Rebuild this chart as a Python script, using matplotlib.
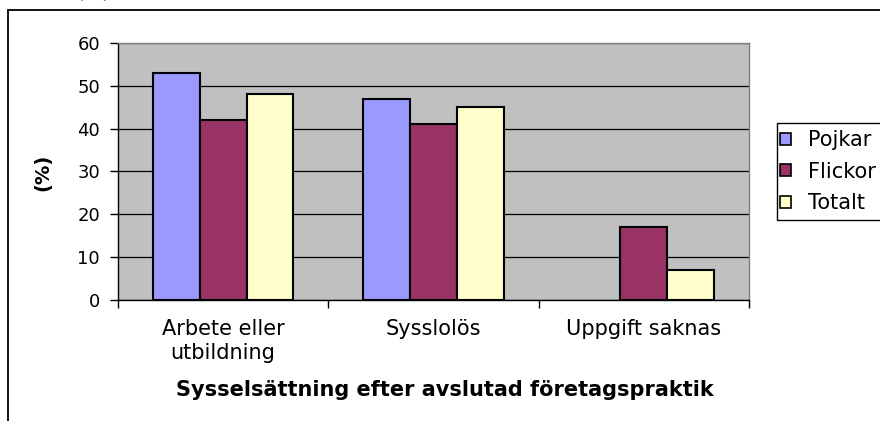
import matplotlib
matplotlib.use("Agg")
import matplotlib.pyplot as plt
import numpy as np
from matplotlib.patches import Rectangle

plt.rcParams['font.family'] = ['DejaVu Sans']

categories = ["Arbete eller\nutbildning", "Sysslolös", "Uppgift saknas"]
series_names = ["Pojkar", "Flickor", "Totalt"]
pojkar = [53, 47, 0]
flickor = [42, 41, 17]
totalt = [48, 45, 7]
yticks = [0, 10, 20, 30, 40, 50, 60]
colors = ["#9999FF", "#993366", "#FFFFCC"]

W, H = 880, 421
fig = plt.figure(figsize=(W/100, H/100), dpi=100)

# outer chart frame (extends beyond the picture on right and bottom)
fig.patches.append(Rectangle((8/W, -0.1), 1.2, 1 - 10/H + 0.1, transform=fig.transFigure,
                             fill=False, edgecolor='black', linewidth=1.3, zorder=0))
# clipped text at top-left
fig.text(93/W, 1 + 8/H, "(%)", ha='center', va='center', fontsize=14)

ax = fig.add_axes([118/W, (H-300)/H, (749-118)/W, (300-43)/H])
ax.set_facecolor('#C0C0C0')

x = np.arange(len(categories))
bw = 1/4.5
data = [pojkar, flickor, totalt]
for i, (vals, c, name) in enumerate(zip(data, colors, series_names)):
    xs = x + (i - 1) * bw
    hs = [v if v > 0 else np.nan for v in vals]
    ax.bar(xs, hs, width=bw, color=c, edgecolor='black', linewidth=1.5, label=name, zorder=3)

ax.set_xlim(-0.5, 2.5)
ax.set_ylim(0, 60)
ax.set_yticks(yticks)
ax.yaxis.grid(True, color='black', linewidth=0.9, zorder=1)
ax.set_axisbelow(True)

ax.set_xticks([-0.5, 0.5, 1.5, 2.5])
ax.set_xticklabels([])
ax.tick_params(axis='x', direction='out', length=6, width=1, color='black')
ax.tick_params(axis='y', direction='out', length=6, width=1, color='black', labelsize=13, pad=7)
for xi, lab in zip(x, categories):
    ax.text(xi, -0.072, lab, transform=ax.get_xaxis_transform(), ha='center', va='top',
            fontsize=15, linespacing=1.28)

ax.spines['left'].set_color('black')
ax.spines['bottom'].set_color('black')
ax.spines['top'].set_color('#808080')
ax.spines['right'].set_color('#808080')
for s in ax.spines.values():
    s.set_linewidth(1.0)

fig.text(445/W, 1 - 390/H, "Sysselsättning efter avslutad företagspraktik", ha='center', va='center',
         fontsize=15, fontweight='bold')
fig.text(43/W, 1 - 172/H, "(%)", ha='center', va='center', rotation=90, fontsize=14, fontweight='bold')

# legend frame drawn manually (extends past right edge like the reference)
fig.patches.append(Rectangle((777/W, 1 - 220/H), 0.2, 97/H, transform=fig.transFigure,
                             facecolor='white', edgecolor='black', linewidth=1.0, zorder=1))
leg = fig.legend(loc='upper left', bbox_to_anchor=(774/W, 1 - 124/H), frameon=False,
                 fontsize=15, handlelength=0.5, handleheight=0.5,
                 handletextpad=0.85, labelspacing=0.55, borderpad=0.3, borderaxespad=0)
leg.set_zorder(5)
for h in leg.legend_handles:
    h.set_linewidth(1.2)

fig.savefig("out.png", dpi=100)
